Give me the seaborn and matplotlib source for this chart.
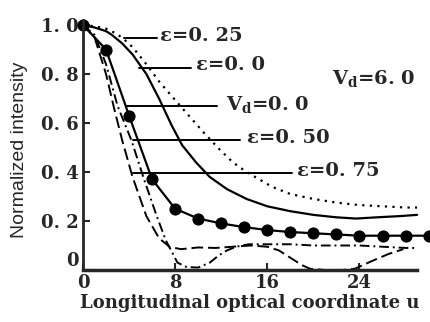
import numpy as np
import pandas as pd
import seaborn as sns
import matplotlib.pyplot as plt

# curve data (u, normalized intensity)
u_e025 = [0, 1, 2, 2.9, 3.6, 4.3, 5.5, 6.6, 7.7, 9.0, 10.5, 11.9, 13.0, 14.2, 15.3, 16.4, 18.0, 20.0, 22.0, 24.0, 26.0, 28.0, 29.0]
v_e025 = [1.0, 0.995, 0.985, 0.965, 0.94, 0.91, 0.84, 0.77, 0.71, 0.64, 0.56, 0.49, 0.44, 0.40, 0.37, 0.34, 0.31, 0.29, 0.275, 0.265, 0.26, 0.255, 0.255]

u_e00 = [0, 1, 2, 2.5, 3.4, 4.3, 5.5, 6.6, 7.7, 8.6, 9.8, 11.0, 12.5, 14.2, 16.0, 18.0, 20.0, 22.0, 23.7, 25.5, 27.5, 29.0]
v_e00 = [1.0, 0.99, 0.975, 0.96, 0.925, 0.88, 0.80, 0.70, 0.59, 0.51, 0.44, 0.38, 0.33, 0.29, 0.26, 0.24, 0.225, 0.215, 0.21, 0.215, 0.22, 0.225]

u_vd0 = [0, 2, 4, 6, 8, 10, 12, 14, 16, 18, 20, 22, 24, 26, 28, 30]
v_vd0 = [1.0, 0.90, 0.63, 0.37, 0.25, 0.21, 0.19, 0.175, 0.163, 0.155, 0.15, 0.145, 0.14, 0.14, 0.14, 0.14]

u_e050 = [0, 1, 2, 3, 4.2, 5.3, 6.4, 7.2, 8.2, 9.0, 10.0, 11.0, 11.8, 12.5, 13.3, 14.4, 16, 18, 20, 22, 24, 26, 28, 29]
v_e050 = [1.0, 0.96, 0.84, 0.67, 0.53, 0.37, 0.22, 0.12, 0.03, 0.012, 0.01, 0.03, 0.06, 0.08, 0.095, 0.105, 0.105, 0.105, 0.10, 0.10, 0.10, 0.095, 0.09, 0.09]

u_e075 = [0, 1, 2, 2.7, 3.4, 4.3, 5.5, 6.6, 7.5, 8.5, 10, 11.5, 13, 14.5, 16, 17, 18, 19, 19.7, 21, 22.5, 23.6, 25, 26.5, 27.8]
v_e075 = [1.0, 0.95, 0.80, 0.66, 0.53, 0.38, 0.22, 0.13, 0.095, 0.085, 0.092, 0.09, 0.095, 0.10, 0.095, 0.08, 0.05, 0.02, 0.005, 0.0, 0.0, 0.005, 0.035, 0.065, 0.085]

x_ticks = [0, 8, 16, 24]
y_ticks = [0, 0.2, 0.4, 0.6, 0.8, 1.0]
y_tick_labels = ['0', '0. 2', '0. 4', '0. 6', '0. 8', '1. 0']

sns.set_style('ticks')
plt.rcParams['font.family'] = ['DejaVu Serif']
plt.rcParams['mathtext.fontset'] = 'dejavuserif'

fig = plt.figure(figsize=(4.3, 3.22), dpi=100)
ax = fig.add_axes([0.193, 0.1615, 0.777, 0.776])

sns.lineplot(x=u_e025, y=v_e025, ax=ax, color='black', lw=1.6, linestyle=(0, (1, 2.4)), clip_on=False)
sns.lineplot(x=u_e00, y=v_e00, ax=ax, color='black', lw=1.6, clip_on=False)
sns.lineplot(x=u_vd0, y=v_vd0, ax=ax, color='black', lw=1.6, marker='o', markersize=8,
             markeredgecolor='black', clip_on=False)
sns.lineplot(x=u_e050, y=v_e050, ax=ax, color='black', lw=1.4, linestyle=(0, (5, 2, 1, 2)), clip_on=False)
sns.lineplot(x=u_e075, y=v_e075, ax=ax, color='black', lw=1.4, linestyle=(0, (6, 2.5)), clip_on=False)

# label leaders
lab = dict(fontsize=14, fontweight='bold', va='center', ha='left')
leaders = [
    (3.6, 6.4, 0.945, 6.7, 'ε=0. 25'),
    (4.9, 9.4, 0.825, 9.8, 'ε=0. 0'),
    (3.8, 11.6, 0.67, 12.4, None),
    (4.3, 13.6, 0.53, 14.2, 'ε=0. 50'),
    (4.3, 18.1, 0.395, 18.6, 'ε=0. 75'),
]
for x0, x1, yv, xt, txt in leaders:
    ax.plot([x0, x1], [yv, yv], color='black', lw=1.4)
    if txt:
        ax.text(xt, yv + 0.01, txt, **lab)
ax.text(12.4, 0.675, r'$\mathbf{V_d}$=0. 0', **lab)
ax.text(21.6, 0.78, r'$\mathbf{V_d}$=6. 0', **lab)

ax.set_xlim(0, 29)
ax.set_ylim(0, 1.02)
ax.set_xticks(x_ticks)
ax.set_xticklabels([str(t) for t in x_ticks])
ax.set_yticks(y_ticks)
ax.set_yticklabels(y_tick_labels)
ax.tick_params(direction='in', length=5, width=1.5, labelsize=13, pad=3)
for t in ax.get_yticklabels() + ax.get_xticklabels():
    t.set_fontweight('bold')
ax.get_yticklabels()[0].set_va('bottom')

sns.despine(ax=ax)
ax.spines['left'].set_linewidth(2)
ax.spines['bottom'].set_linewidth(2.5)

ax.set_xlabel('Longitudinal optical coordinate u', fontsize=13, fontweight='bold', labelpad=1)
ax.set_ylabel('Normalized intensity', fontsize=14, family='Liberation Sans')
ax.yaxis.set_label_coords(-0.165, 0.48)

fig.savefig('out.png', dpi=100)
